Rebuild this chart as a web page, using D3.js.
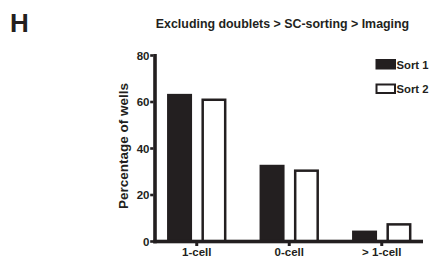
<!DOCTYPE html>
<html><head><meta charset="utf-8">
<script src="https://cdn.jsdelivr.net/npm/d3@7"></script>
<style>
html,body{margin:0;padding:0;background:#fff;}
svg{display:block;font-family:"Liberation Sans",Arial,sans-serif;}
</style></head>
<body>
<script>
const categories = ["1-cell", "0-cell", "> 1-cell"];
const seriesNames = ["Sort 1", "Sort 2"];
const sort1 = [63.5, 33, 4.7];
const sort2 = [61.5, 31, 7.9];
const yTicks = [0, 20, 40, 60, 80];
const title = "Excluding doublets > SC-sorting > Imaging";
const yTitle = "Percentage of wells";
const panel = "H";

const W = 430, H = 257;
const ink = "#231f20";
const svg = d3.select("body").append("svg").attr("width", W).attr("height", H);

const y = d3.scaleLinear().domain([0, 80]).range([241.5, 55.5]);
const x = d3.scaleBand().domain(categories).range([150.5, 428]).paddingInner(0.358).paddingOuter(0.179);
const xs = d3.scaleBand().domain(seriesNames).range([0, x.bandwidth()]).paddingInner(0.273).paddingOuter(0);

const data = categories.map((c, i) => ({cat: c, vals: [sort1[i], sort2[i]]}));

// bars
const g = svg.append("g");
data.forEach(d => {
  d.vals.forEach((v, j) => {
    const s = seriesNames[j];
    const bw = xs.bandwidth();
    const x0 = x(d.cat) + xs(s);
    if (j === 0) {
      g.append("rect").attr("x", x0).attr("y", y(v)).attr("width", bw).attr("height", y(0) - y(v)).attr("fill", ink);
    } else {
      g.append("rect").attr("x", x0 + 1.25).attr("y", y(v) + 1.25).attr("width", bw - 2.5).attr("height", y(0) - y(v) - 1.25)
        .attr("fill", "#fff").attr("stroke", ink).attr("stroke-width", 2.5);
    }
  });
});

const axX = 155;
const aw = 3.6;
// y axis (labels via d3 axis, marks drawn as filled rects)
const yAxis = d3.axisLeft(y).tickValues(yTicks).tickSize(0).tickPadding(5.5);
const ya = svg.append("g").attr("transform", `translate(${axX},0)`).call(yAxis);
ya.select(".domain").remove();
ya.selectAll(".tick line").remove();
ya.selectAll(".tick text").attr("fill", ink).attr("font-size", 11.5).attr("font-weight", "bold")
  .attr("font-family", '"Liberation Sans",Arial,sans-serif');
svg.append("rect").attr("x", axX - aw / 2).attr("y", y(80) - 1.5).attr("width", aw).attr("height", y(0) - y(80) + 3.3).attr("fill", ink);
svg.selectAll(".ytick").data(yTicks).enter().append("rect").attr("class", "ytick")
  .attr("x", axX - 4.8).attr("y", d => y(d) - 1.3).attr("width", 3.2).attr("height", 2.6).attr("fill", ink);

// x axis
const xAxis = d3.axisBottom(x).tickSize(0).tickPadding(6).tickSizeOuter(0);
const xa = svg.append("g").attr("transform", `translate(0,${y(0)})`).call(xAxis);
xa.select(".domain").remove();
xa.selectAll(".tick line").remove();
xa.selectAll(".tick text").attr("fill", ink).attr("font-size", 11.5).attr("font-weight", "bold")
  .attr("font-family", '"Liberation Sans",Arial,sans-serif');
svg.append("rect").attr("x", 153.2).attr("y", y(0) - aw / 2).attr("width", 423 - 153.2).attr("height", aw).attr("fill", ink);
svg.selectAll(".xtick").data(categories).enter().append("rect").attr("class", "xtick")
  .attr("x", d => x(d) + x.bandwidth() / 2 - 1.5).attr("y", y(0) + 1.5).attr("width", 3).attr("height", 3).attr("fill", ink);

// y title
svg.append("text").attr("transform", "translate(127.5,146) rotate(-90)")
  .attr("text-anchor", "middle").attr("font-size", 13.5).attr("font-weight", "bold").attr("fill", ink).text(yTitle);

// title
svg.append("text").attr("x", 282.5).attr("y", 27.5).attr("text-anchor", "middle")
  .attr("font-size", 12.4).attr("font-weight", "bold").attr("fill", ink).text(title);

// panel letter
svg.append("text").attr("x", 10).attr("y", 32).attr("font-size", 26).attr("font-weight", "bold").attr("fill", ink).text(panel);

// legend
const lg = svg.append("g");
seriesNames.forEach((s, j) => {
  const ly = 59 + j * 24.5;
  if (j === 0) lg.append("rect").attr("x", 375.5).attr("y", ly).attr("width", 20.5).attr("height", 10.5).attr("fill", ink);
  else lg.append("rect").attr("x", 376.5).attr("y", ly + 1).attr("width", 18.5).attr("height", 8.5).attr("fill", "#fff").attr("stroke", ink).attr("stroke-width", 2);
  lg.append("text").attr("x", 396.5).attr("y", ly + 9.5).attr("font-size", 11.3).attr("font-weight", "bold").attr("fill", ink).text(s);
});
</script>
</body></html>
